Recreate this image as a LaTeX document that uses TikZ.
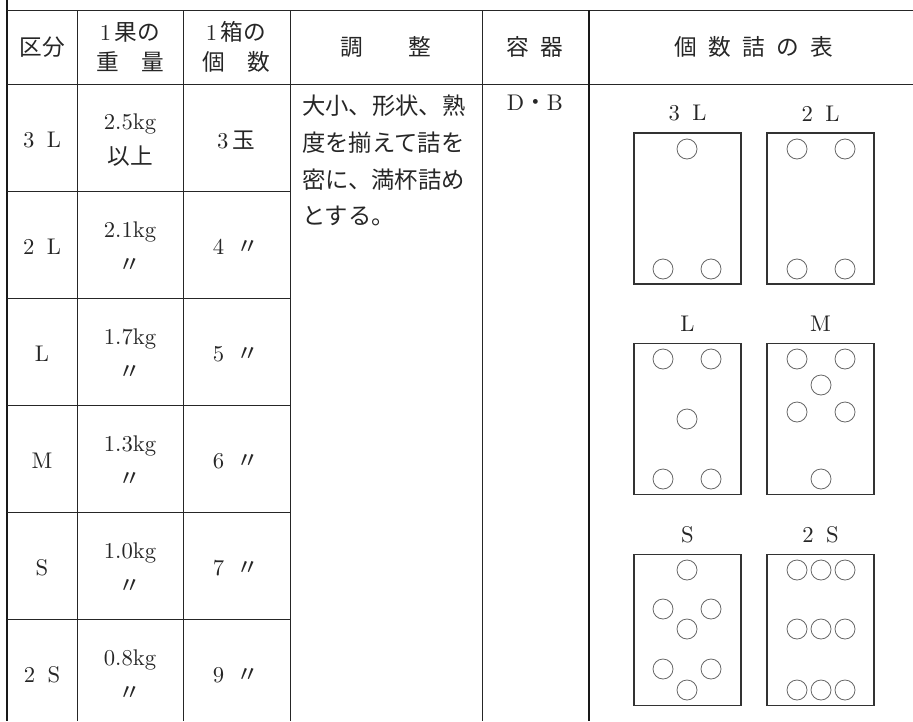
\documentclass[tikz,border=0pt]{standalone}
\usepackage{fontspec}
\setmainfont{lmroman10-regular.otf}
\newfontfamily\jp{Noto Sans CJK JP}
\newcommand{\ja}[1]{{\jp #1}}
\newcommand{\gap}{\hspace{0.55em}}
\usetikzlibrary{positioning}

\begin{document}
\begin{tikzpicture}[
		x=0.75pt, y=-0.75pt,
		rule/.style={draw=black!85, line width=0.75pt},
		cell/.style={inner sep=0pt, align=center, text=black!85, font=\fontsize{17}{26}\selectfont},
		boxlabel/.style={inner sep=0pt, text=black!85, font=\fontsize{17}{20}\selectfont},
		box/.style={draw=black!80, line width=1pt, minimum width=80.25pt, minimum height=113.25pt, inner sep=0pt},
		fruit/.style={draw=black!60, circle, minimum size=15pt, inner sep=0pt, line width=0.6pt}
		]
		\useasboundingbox (0,0) rectangle (913,721);
		
		% table rules
		\draw[line width=2.2pt, black!90] (7,0) -- (7,721);
		\draw[rule] (7,10) -- (913,10);
		\draw[rule] (7,84) -- (913,84);
		\foreach \y in {191,298,405,512,619}
			\draw[rule] (7,\y) -- (290,\y);
		\foreach \x in {77,183,290,482}
			\draw[rule] (\x,10) -- (\x,721);
		\draw[line width=1.5pt, black!90] (589,10) -- (589,721);
		
		% header
		\node[cell] at (42,47) (hcls) {\ja{区分}};
		\node[cell, font=\fontsize{17}{22.5}\selectfont] at (130,47) (hwt) {1\,\ja{果の}\\\ja{重　量}};
		\node[cell, font=\fontsize{17}{22.5}\selectfont] at (236,47) (hnum) {1\,\ja{箱の}\\\ja{個　数}};
		\node[cell] at (386,47) (hadj) {\ja{調　　整}};
		\node[cell] at (535,47) (hcont) {\ja{容\hspace{0.5em}器}};
		\node[cell] at (754,47) (htab) {\ja{個\hspace{0.5em}数\hspace{0.5em}詰\hspace{0.5em}の\hspace{0.5em}表}};
		
		% rows
		\foreach \cls/\wa/\wb/\num/\y [count=\i] in {
			{3\gap L}/{2.5kg}/{\ja{以上}}/{3\,\ja{玉}}/140,
			{2\gap L}/{2.1kg}/{\ja{〃}}/{4\gap\ja{〃}}/247,
			{L}/{1.7kg}/{\ja{〃}}/{5\gap\ja{〃}}/354,
			{M}/{1.3kg}/{\ja{〃}}/{6\gap\ja{〃}}/461,
			{S}/{1.0kg}/{\ja{〃}}/{7\gap\ja{〃}}/568,
			{2\gap S}/{0.8kg}/{\ja{〃}}/{9\gap\ja{〃}}/675}
		{
			\node[cell] at (42,\y) (cls\i) {\cls};
			\node[cell] at (130,\y) (wt\i) {\wa\\\wb};
			\node[cell] at (236,\y) (num\i) {\num};
		}
		
		\node[cell, anchor=north west, align=left, font=\fontsize{17.5}{27.5}\selectfont\jp] at (302,95) (adjust)
			{大小、形状、熟\\度を揃えて詰を\\密に、満杯詰め\\とする。};
		\node[cell, anchor=north] at (535,95) (cont) {D\ja{・}B};
		
		% packing boxes
		\node[box] at (687.5,208.5) (b3L) {};
		\node[box] at (820.5,208.5) (b2L) {};
		\node[box] at (687.5,419) (bL) {};
		\node[box] at (820.5,419) (bM) {};
		\node[box] at (687.5,630) (bS) {};
		\node[box] at (820.5,630) (b2S) {};
		\node[boxlabel, above=8pt of b3L] (l3L) {3\gap L};
		\node[boxlabel, above=8pt of b2L] (l2L) {2\gap L};
		\node[boxlabel, above=8pt of bL] (lL) {L};
		\node[boxlabel, above=8pt of bM] (lM) {M};
		\node[boxlabel, above=8pt of bS] (lS) {S};
		\node[boxlabel, above=8pt of b2S] (l2S) {2\gap S};
		
		% fruits
		\foreach \p [count=\k] in {(687,149),(663,269),(711,269)}
			\node[fruit] at \p (f3L\k) {};
		\foreach \p [count=\k] in {(797,149),(845,149),(797,269),(845,269)}
			\node[fruit] at \p (f2L\k) {};
		\foreach \p [count=\k] in {(663,359),(711,359),(687,419),(663,479),(711,479)}
			\node[fruit] at \p (fL\k) {};
		\foreach \p [count=\k] in {(797,359),(845,359),(821,385),(797,412),(845,412),(821,479)}
			\node[fruit] at \p (fM\k) {};
		\foreach \p [count=\k] in {(687,570),(663,609),(711,609),(687,629),(663,669),(711,669),(687,690)}
			\node[fruit] at \p (fS\k) {};
		\foreach \y in {570,629,690}
			\foreach \x in {797,821,845}
				\node[fruit] at (\x,\y) (f2S-\x-\y) {};
	\end{tikzpicture}
\end{document}
